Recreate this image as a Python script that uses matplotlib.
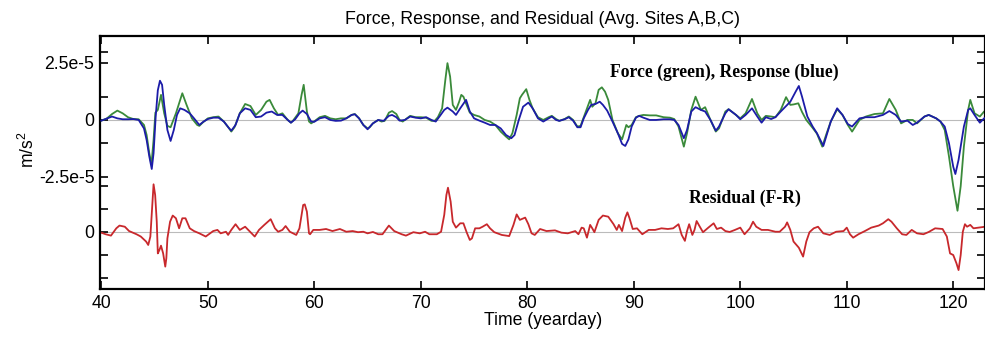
import numpy as np
import matplotlib
matplotlib.use("Agg")
import matplotlib.pyplot as plt

# values, in units of 1e-6 m/s^2
force_day = [40.0, 40.5, 41.0, 41.5, 42.0, 42.5, 43.0, 43.5, 44.0, 44.25, 44.5, 44.7, 44.9, 45.07, 45.3,
             45.6, 45.9, 46.2, 46.5, 47.0, 47.6, 48.0, 48.5, 49.0, 49.2, 49.5, 50.0, 50.5, 51.0, 51.5,
             52.0, 52.2, 52.5, 53.0, 53.5, 54.0, 54.5, 55.0, 55.5, 55.8, 56.2, 56.6, 57.0, 57.5, 57.8,
             58.0, 58.5, 58.8, 59.0, 59.3, 59.5, 59.7, 60.0, 60.5, 61.0, 61.5, 62.0, 62.5, 63.0, 63.5,
             63.8, 64.2, 64.6, 65.0, 65.2, 65.5, 66.0, 66.3, 66.6, 67.0, 67.3, 67.7, 68.0, 68.3, 68.7,
             69.0, 69.5, 70.0, 70.5, 71.0, 71.3, 71.6, 72.0, 72.3, 72.5, 72.75, 73.0, 73.3, 73.6, 73.8,
             74.0, 74.3, 74.6, 75.0, 75.5, 76.0, 76.5, 77.0, 77.5, 78.0, 78.3, 78.6, 79.0, 79.3, 79.5,
             79.9, 80.2, 80.5, 81.0, 81.5, 82.0, 82.3, 82.7, 83.0, 83.5, 83.9, 84.3, 84.7, 85.0, 85.3,
             85.6, 85.9, 86.1, 86.4, 86.7, 87.0, 87.3, 87.6, 88.0, 88.5, 88.9, 89.3, 89.5, 89.8, 90.2,
             90.5, 90.9, 91.5, 92.1, 92.8, 93.4, 93.8, 94.2, 94.7, 95.0, 95.4, 95.8, 96.3, 96.7, 97.2,
             97.7, 98.0, 98.6, 98.9, 99.6, 100.0, 100.5, 101.1, 101.6, 102.0, 102.4, 102.9, 103.3, 103.8,
             104.3, 104.7, 105.0, 105.45, 105.8, 106.2, 106.8, 107.2, 107.7, 108.1, 108.5, 109.1, 109.6,
             110.1, 110.5, 111.2, 111.8, 112.6, 113.4, 114.0, 114.6, 115.1, 115.7, 116.2, 116.6, 117.3,
             117.7, 118.4, 118.8, 119.2, 119.6, 120.0, 120.4, 120.7, 121.0, 121.4, 121.6, 122.0, 122.5,
             122.9, 123.1]
force_val = [-0.3, 0.6, 2.6, 4.1, 2.9, 1.2, 0.4, 0.3, -2.2, -6.6, -14.6, -19.5, -8.8, 3.2, 4.4,
             11.0, 2.9, -2.6, -3.2, 2.9, 11.7, 6.6, 0.7, -2.2, -2.6, -1.2, 0.7, 1.2, 1.5, -0.7,
             -3.7, -5.1, -3.2, 2.9, 7.0, 6.1, 2.2, 4.4, 8.0, 8.8, 5.1, 2.2, 2.9, 0.0, -1.2,
             -0.3, 2.9, 11.0, 15.4, 3.7, -0.7, -1.5, -0.6, 1.2, 1.8, 0.7, 0.3, 0.7, 0.7, 2.2,
             2.6, 0.7, -2.2, -3.7, -3.2, -1.5, 0.0, -0.7, -0.4, 3.2, 3.9, 2.6, 0.0, -0.7, 0.7,
             1.8, 1.2, 1.2, 1.0, -0.4, -0.4, 1.2, 5.1, 17.5, 24.9, 19.0, 6.6, 4.4, 8.0, 11.0,
             10.2, 6.6, 3.2, 2.2, 1.5, 0.0, -0.7, -2.2, -5.1, -7.3, -8.5, -5.8, 2.2, 9.5, 11.0,
             13.5, 8.8, 5.1, 1.2, 0.0, 1.2, 1.8, 0.4, -0.4, 0.4, 1.5, 0.0, -2.9, -2.6, 1.2,
             5.1, 8.8, 5.8, 7.3, 13.2, 14.3, 12.4, 8.8, 0.0, -5.8, -8.5, -2.2, -3.2, -2.2, 1.2,
             1.8, 2.2, 2.0, 2.0, 1.2, 1.0, 0.4, -2.9, -11.7, -5.8, 4.4, 10.2, 4.4, 5.6, 0.0,
             -5.1, -3.7, 3.7, 4.7, 2.2, 0.7, 2.9, 9.2, 2.9, 0.0, 1.8, 1.5, 1.2, 4.4,
             10.0, 6.6, 6.8, 7.3, 3.5, 0.0, -3.5, -6.0, -11.7, -6.0, -0.7, 4.7, 2.2,
             -2.2, -5.1, 0.0, 1.5, 2.6, 2.9, 9.2, 4.4, -1.5, 0.0, 0.0, -1.5, 1.5,
             2.2, 0.7, -0.7, -4.4, -16.0, -29.0, -39.8, -29.0, -11.7, 4.4, 8.8, 2.9, 1.5,
             3.7, 3.0]

response_day = [40.0, 40.5, 41.0, 41.5, 42.0, 42.5, 43.0, 43.5, 44.0, 44.25, 44.5, 44.73, 44.9, 45.1, 45.3,
                45.5, 45.7, 45.9, 46.2, 46.5, 46.8, 47.1, 47.4, 47.8, 48.3, 48.7, 49.2, 49.6, 50.0, 50.5,
                51.0, 51.5, 52.0, 52.2, 52.6, 53.0, 53.5, 54.0, 54.5, 55.0, 55.5, 56.0, 56.5, 57.0, 57.5,
                57.8, 58.2, 58.6, 58.9, 59.3, 59.7, 60.0, 60.5, 61.0, 61.5, 62.0, 62.5, 63.0, 63.5, 63.8,
                64.2, 64.6, 65.0, 65.5, 66.0, 66.5, 67.0, 67.3, 67.7, 68.0, 68.5, 69.0, 69.5, 70.0, 70.5,
                71.0, 71.4, 71.8, 72.2, 72.5, 73.0, 73.3, 73.7, 74.25, 74.6, 75.0, 75.5, 76.0, 76.5, 77.0,
                77.5, 78.0, 78.5, 78.8, 79.2, 79.6, 80.1, 80.5, 81.0, 81.5, 82.0, 82.3, 82.7, 83.0, 83.5,
                83.9, 84.3, 84.7, 85.0, 85.3, 85.7, 86.0, 86.4, 86.8, 87.1, 87.5, 88.0, 88.5, 88.9, 89.2,
                89.5, 89.8, 90.2, 90.5, 90.9, 91.5, 92.1, 92.8, 93.4, 93.8, 94.2, 94.7, 95.0, 95.4, 95.8,
                96.3, 96.7, 97.2, 97.7, 98.0, 98.6, 98.9, 99.6, 100.0, 100.5, 101.1, 101.6, 102.0, 102.4,
                102.9, 103.3, 103.8, 104.3, 104.7, 105.2, 105.5, 105.8, 106.3, 106.8, 107.2, 107.8, 108.5,
                109.1, 109.6, 110.1, 110.5, 111.2, 111.8, 112.6, 113.4, 114.0, 114.6, 115.1, 115.7, 116.2,
                116.6, 117.3, 117.7, 118.4, 118.8, 119.2, 119.6, 120.0, 120.2, 120.5, 121.0, 121.4, 121.6,
                122.0, 122.5, 122.9, 123.1]
response_val = [-0.3, 0.6, 1.5, 0.7, 0.3, 0.3, 0.4, 0.0, -3.7, -8.8, -16.0, -21.5, -14.6, 1.5, 13.0,
                17.2, 15.4, 6.6, -4.4, -9.2, -4.4, 2.2, 5.1, 4.4, 2.9, 0.7, -2.2, -0.7, 0.4, 1.0,
                1.0, -0.7, -3.7, -4.7, -2.2, 2.9, 5.1, 4.4, 1.2, 1.5, 3.2, 3.7, 2.2, 2.2, 0.0,
                -1.2, 0.3, 2.9, 4.1, 2.6, -0.7, -0.8, 0.7, 1.2, 0.0, -0.4, -0.3, 0.7, 2.2, 2.5,
                0.7, -2.2, -4.1, -1.5, 0.0, -0.4, 1.8, 2.2, 1.2, -0.3, 0.0, 1.5, 1.0, 0.7, 1.2,
                0.0, -0.7, 1.8, 4.4, 5.4, 3.7, 2.2, 5.1, 8.8, 3.7, 0.7, -0.3, -1.2, -2.2, -2.2,
                -3.7, -6.6, -8.0, -6.6, 0.0, 5.8, 7.6, 5.1, 0.7, -0.7, 0.7, 1.5, 0.0, -0.4, 0.3,
                1.2, -0.3, -3.2, -3.2, 0.7, 4.4, 6.6, 7.0, 8.0, 6.6, 4.1, -0.7, -5.8, -10.5, -11.4,
                -8.5, -2.9, 1.0, 1.8, 1.0, 0.0, 0.0, 0.3, 0.3, 0.0, -2.2, -8.0, -4.4, 3.7, 5.6,
                4.4, 3.7, 0.0, -4.7, -2.9, 2.9, 4.7, 2.2, 0.3, 2.2, 5.1, 1.5, -1.2, 1.2,
                0.4, 1.2, 3.7, 6.1, 8.0, 12.4, 14.9, 10.2, 1.5, -2.9, -5.8, -11.4, -0.7,
                5.1, 2.2, -1.8, -2.9, 0.7, 1.2, 1.2, 2.2, 3.9, 2.2, -0.7, -0.3, -2.2,
                -1.2, 1.5, 2.2, 0.7, -0.7, -2.9, -10.2, -20.5, -23.7, -17.5, -2.9, 4.4, 5.1,
                2.2, -1.2, 0.7, 1.0]

residual_day = [39.8, 40.4, 40.9, 41.4, 41.7, 42.2, 42.6, 43.3, 43.7, 44.2, 44.4, 44.6, 44.8, 44.9, 45.05,
                45.2, 45.3, 45.45, 45.6, 45.8, 46.0, 46.1, 46.2, 46.45, 46.7, 47.0, 47.3, 47.6, 47.9, 48.3,
                48.7, 49.2, 49.8, 50.5, 50.9, 51.2, 51.7, 51.9, 52.2, 52.6, 53.0, 53.5, 53.9, 54.4, 54.8,
                55.3, 55.9, 56.3, 56.6, 57.0, 57.3, 57.7, 58.3, 58.6, 58.95, 59.1, 59.3, 59.5, 59.6, 59.9,
                60.5, 61.1, 61.7, 62.4, 63.0, 63.6, 64.1, 64.6, 65.0, 65.5, 66.0, 66.4, 67.0, 67.5, 68.2,
                68.6, 69.3, 69.9, 70.4, 70.8, 71.5, 71.9, 72.2, 72.4, 72.55, 72.8, 73.0, 73.3, 73.7, 74.0,
                74.3, 74.6, 74.8, 75.1, 75.5, 75.8, 76.2, 76.5, 76.9, 77.6, 78.3, 78.7, 79.0, 79.3, 79.8,
                80.1, 80.4, 80.7, 81.2, 81.8, 82.6, 83.2, 83.8, 84.5, 84.8, 85.1, 85.3, 85.6, 85.9, 86.1,
                86.3, 86.7, 87.1, 87.6, 88.1, 88.4, 88.6, 88.9, 89.2, 89.4, 89.6, 89.9, 90.3, 90.8, 91.4,
                92.0, 92.6, 93.2, 93.7, 94.2, 94.5, 94.8, 95.0, 95.2, 95.5, 95.7, 95.9, 96.2, 96.5, 97.0,
                97.5, 97.8, 98.2, 98.6, 99.0, 99.5, 100.0, 100.4, 100.9, 101.2, 101.5, 102.0, 102.6, 103.3,
                103.7, 104.2, 104.4, 104.7, 105.0, 105.5, 105.9, 106.2, 106.5, 106.9, 107.3, 107.8, 108.4,
                109.0, 109.7, 110.0, 110.3, 110.6, 111.1, 111.7, 112.3, 113.0, 113.4, 113.9, 114.2, 114.7,
                115.2, 115.6, 116.1, 116.6, 117.2, 117.7, 118.3, 119.0, 119.4, 119.7, 120.0, 120.3, 120.5,
                120.7, 120.9, 121.1, 121.3, 121.6, 121.9, 122.4, 123.0]
residual_val = [0.0, -1.0, -1.6, 1.6, 2.8, 2.3, 0.4, -1.0, -2.0, -4.2, -5.7, -2.0, 13.3, 20.9, 16.2,
                4.5, -9.4, -7.9, -6.0, -9.4, -15.2, -11.5, -2.8, 4.5, 7.2, 6.0, 1.6, 6.0, 6.0, 1.6,
                0.4, -0.6, -2.0, 0.4, 0.9, -0.6, 0.1, -1.3, 0.9, 3.4, 0.9, 2.3, 0.4, -2.0, 0.9,
                3.1, 5.6, 1.6, 0.1, 0.9, 2.6, 0.1, -1.3, 1.6, 11.8, 12.1, 8.9, -0.6, -1.0, 0.9,
                0.9, 1.3, 0.4, 1.3, 0.1, 0.4, -0.1, 0.1, -0.6, 0.0, -1.0, -1.0, 2.8, 0.4, -1.0,
                -1.6, -0.1, -0.6, 0.1, -1.0, -1.0, 0.1, 7.5, 16.2, 19.4, 13.3, 4.5, 1.9, 3.8, 3.8,
                -0.1, -3.5, -2.8, 1.6, 1.6, 2.3, 3.4, 1.6, -0.1, -1.3, -1.8, 3.1, 7.7, 5.3, 6.3,
                3.4, -0.6, -1.3, 1.3, 0.4, 0.7, -0.3, -0.6, 0.4, -1.0, 1.9, 1.6, -2.5, 3.1, 1.6,
                -0.1, 5.3, 7.2, 6.7, 3.4, 0.9, 3.1, 0.4, 6.3, 8.6, 6.0, 1.3, 1.6, -1.0, 0.9,
                0.9, 1.6, 1.3, 1.6, 3.4, -1.3, -3.9, 0.4, 3.4, -1.3, 0.9, 4.8, 2.3, -0.1, 1.9,
                3.8, 1.3, 1.9, 0.4, 0.0, 0.9, 1.9, -1.0, 1.6, 4.5, 2.3, 0.9, 0.9, 0.1,
                0.1, 2.3, 4.2, 0.9, -4.2, -6.9, -10.8, -4.2, -0.1, 1.6, 2.3, -0.6, -1.3,
                0.1, 0.4, 1.9, -1.0, -2.5, -1.0, 0.4, 1.9, 2.8, 3.8, 5.6, 4.5, 1.6,
                -1.0, -1.3, 0.9, -0.6, -1.0, 0.0, 1.6, 1.3, -2.0, -9.4, -10.1, -13.7, -16.7,
                -10.1, 0.1, 3.4, 2.3, 3.1, 1.6, 1.9, 2.3]

scale = 1e-6
offset = -4.91e-5   # residual trace is drawn shifted below the others

plt.rcParams['font.family'] = ['Liberation Sans', 'DejaVu Sans']
plt.rcParams['mathtext.default'] = 'regular'

fig = plt.figure(figsize=(9.85, 3.38), dpi=100)
ax = fig.add_axes([100 / 985, 1 - 289 / 338, 885.5 / 985, 253 / 338])

ax.axhline(0, color='#bbbbbb', lw=0.8, zorder=1)
ax.axhline(offset, color='#bbbbbb', lw=0.8, zorder=1)

ax.plot(force_day, np.array(force_val) * scale, color='#3a8a3a', lw=1.3, zorder=2,
        solid_joinstyle='round')
ax.plot(response_day, np.array(response_val) * scale, color='#1c1ca8', lw=1.3, zorder=3,
        solid_joinstyle='round')
ax.plot(residual_day, np.array(residual_val) * scale + offset, color='#c8282c', lw=1.3, zorder=2,
        solid_joinstyle='round')

ax.set_xlim(39.87, 123.03)
ax.set_ylim(-74.1e-6, 36.8e-6)

ax.set_xticks(range(40, 121, 10))
ax.set_yticks([2.5e-5, 0, -2.5e-5, offset])
ax.set_yticklabels(['2.5e-5', '0', '-2.5e-5', '0'])
ax.set_yticks([3e-5, 1e-5, -1e-5, offset + 2e-5, offset + 1e-5, offset - 1e-5, offset - 2e-5], minor=True)

ax.tick_params(axis='both', which='both', direction='in', top=True, right=True,
               length=6, width=1.2, labelsize=12.7, pad=4)
for s in ax.spines.values():
    s.set_linewidth(1.6)

ax.set_title('Force, Response, and Residual (Avg. Sites A,B,C)', fontsize=12.8, pad=9)
ax.set_xlabel('Time (yearday)', fontsize=12.7, labelpad=0)
fig.text(28 / 985, 1 - 150 / 338, 'm/s$^2$', rotation=90, fontsize=12.7, ha='center', va='center')

ax.text(98.5, 21e-6, 'Force (green), Response (blue)', family='Liberation Serif',
        fontweight='bold', fontsize=12.7, ha='center', va='center')
ax.text(100.4, -34.2e-6, 'Residual (F-R)', family='Liberation Serif',
        fontweight='bold', fontsize=12.8, ha='center', va='center')

fig.savefig('out.png', dpi=100)
